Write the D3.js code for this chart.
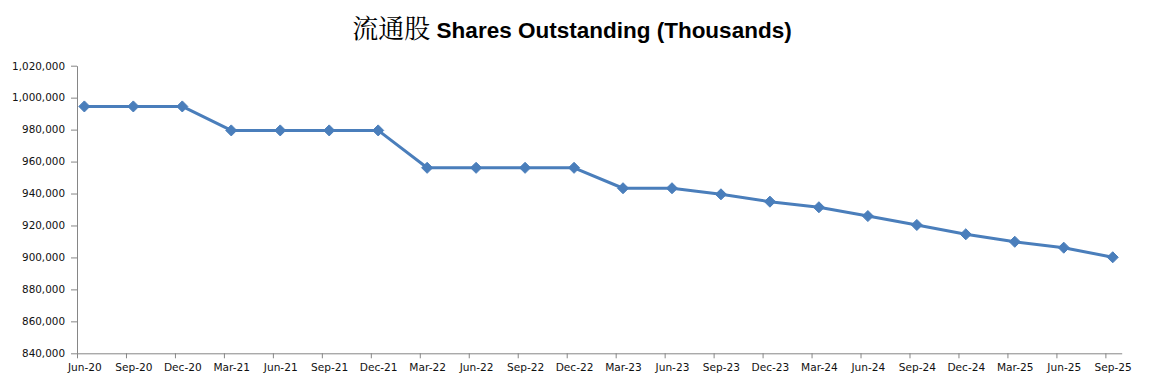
<!DOCTYPE html>
<html>
<head>
<meta charset="utf-8">
<script src="https://cdn.jsdelivr.net/npm/d3@7"></script>
<style>
  body { margin: 0; background: #fff; }
  svg { display: block; }
</style>
</head>
<body>
<svg id="chart" width="1151" height="385"></svg>
<script>
const categories = ["Jun-20","Sep-20","Dec-20","Mar-21","Jun-21","Sep-21","Dec-21","Mar-22","Jun-22","Sep-22","Dec-22","Mar-23","Jun-23","Sep-23","Dec-23","Mar-24","Jun-24","Sep-24","Dec-24","Mar-25","Jun-25","Sep-25"];
const sharesOutstanding = [994500, 994500, 994500, 979500, 979500, 979500, 979500, 956100, 956100, 956100, 956100, 943300, 943300, 939500, 934900, 931400, 925900, 920300, 914500, 909800, 906100, 900100];
const yTicks = [840000, 860000, 880000, 900000, 920000, 940000, 960000, 980000, 1000000, 1020000];
const titleCJK = "流通股";
const titleEN = " Shares Outstanding (Thousands)";

(function () {
const svg = d3.select("#chart");
const plotLeft = 77, plotRight = 1121.7, plotTop = 65.7, plotBottom = 353.3;
const monthsPerCat = 3, totalMonths = categories.length * monthsPerCat - 2;
const x = d3.scaleLinear().domain([0, totalMonths]).range([plotLeft, plotRight]);
const y = d3.scaleLinear().domain([840000, 1020000]).range([plotBottom, plotTop]);
const pointOffset = 0.45;
const px = (d, i) => x(i * monthsPerCat + pointOffset);

const axisColor = "#868686";
const font = "'DejaVu Sans', Verdana, sans-serif";

// Y axis
const yAxis = svg.append("g").attr("transform", `translate(${plotLeft},0)`)
  .call(d3.axisLeft(y).tickValues(yTicks).tickFormat(d3.format(",")).tickSize(6).tickSizeOuter(0).tickPadding(6));
yAxis.selectAll("path, line").attr("stroke", axisColor);
yAxis.selectAll("text").attr("font-family", font).attr("font-size", 10.4).attr("fill", "#111");

// X axis tick marks
const xTickAxis = svg.append("g").attr("transform", `translate(0,${plotBottom})`)
  .call(d3.axisBottom(x).tickValues(categories.map((c, i) => i * monthsPerCat)).tickFormat("").tickSize(5).tickSizeOuter(0));
xTickAxis.selectAll("path, line").attr("stroke", axisColor);

// X axis labels (centered on points)
const xLabelAxis = svg.append("g").attr("transform", `translate(0,${plotBottom})`)
  .call(d3.axisBottom(x).tickValues(categories.map((c, i) => i * monthsPerCat + pointOffset))
    .tickFormat((d, i) => categories[i]).tickSize(0).tickPadding(10));
xLabelAxis.select(".domain").remove();
xLabelAxis.selectAll("text").attr("font-family", font).attr("font-size", 10.6).attr("fill", "#111");

// Line
const color = "#4A7EBB";
const line = d3.line().x((d, i) => px(d, i)).y(d => y(d));
svg.append("path").datum(sharesOutstanding)
  .attr("d", line).attr("fill", "none").attr("stroke", color)
  .attr("stroke-width", 3).attr("stroke-linejoin", "round");

// Diamond markers
svg.append("g").selectAll("path").data(sharesOutstanding).join("path")
  .attr("d", d3.symbol().type(d3.symbolDiamond2).size(78))
  .attr("transform", (d, i) => `translate(${px(d, i)},${y(d)})`)
  .attr("fill", color).attr("stroke", color).attr("stroke-width", 1);

// Title
const title = svg.append("text").attr("x", 572).attr("y", 38).attr("text-anchor", "middle");
title.append("tspan").text(titleCJK)
  .attr("font-family", "'Noto Serif CJK SC', 'Noto Sans CJK SC', sans-serif")
  .attr("font-size", 26).attr("font-weight", "normal");
title.append("tspan").text(titleEN)
  .attr("font-family", "'Liberation Sans', Arial, sans-serif")
  .attr("font-size", 22.5).attr("font-weight", "bold");
})();
</script>
</body>
</html>
